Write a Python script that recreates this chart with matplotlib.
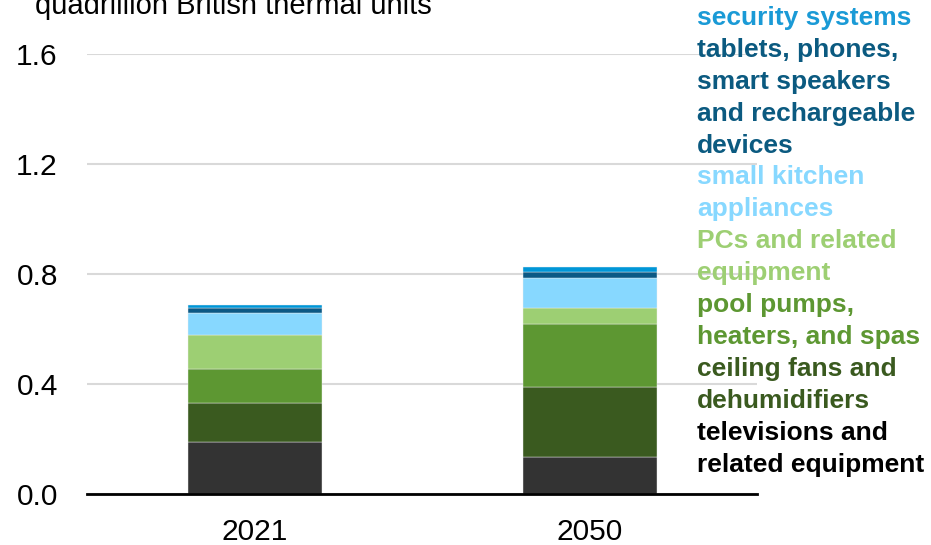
import matplotlib
matplotlib.use("Agg")
import matplotlib.pyplot as plt
import numpy as np

plt.rcParams['font.family'] = ['Liberation Sans', 'DejaVu Sans']

years = ["2021", "2050"]
categories = [
    "televisions and\nrelated equipment",
    "ceiling fans and\ndehumidifiers",
    "pool pumps,\nheaters, and spas",
    "PCs and related\nequipment",
    "small kitchen\nappliances",
    "tablets, phones,\nsmart speakers\nand rechargeable\ndevices",
    "security systems",
]
values_2021 = [0.190, 0.140, 0.125, 0.123, 0.081, 0.017, 0.010]
values_2050 = [0.133, 0.255, 0.229, 0.060, 0.107, 0.022, 0.019]
bar_colors = ["#333333", "#3a5a1f", "#5d9732", "#9dcf73", "#87d8ff", "#0b5985", "#0096d7"]
text_colors = ["#000000", "#3a5a1f", "#5d9732", "#9dcf73", "#87d8ff", "#0b5a80", "#1a9ad6"]
yticks = [0.0, 0.4, 0.8, 1.2, 1.6]
ylabel = "quadrillion British thermal units"

W, H = 931, 545
fig = plt.figure(figsize=(W / 100, H / 100), dpi=100)
ax = fig.add_axes([87 / W, 1 - 494 / H, (757 - 87) / W, (494 - 54) / H])

data = np.array([values_2021, values_2050])
x = np.arange(len(years))
bottom = np.zeros(len(years))
for i, c in enumerate(categories):
    ax.bar(x, data[:, i], bottom=bottom, width=0.4, color=bar_colors[i],
           edgecolor="#f0f0f0", linewidth=0.3, zorder=3)
    bottom += data[:, i]

ax.set_xlim(-0.5, 1.5)
ax.set_ylim(0, 1.6)
ax.set_yticks(yticks)
ax.set_yticklabels([f"{t:.1f}" for t in yticks], fontsize=21.5)
ax.set_xticks(x)
ax.set_xticklabels(years, fontsize=21.5)
ax.tick_params(axis='y', length=0, pad=21)
ax.tick_params(axis='x', length=0, pad=17)
ax.grid(axis='y', color="#d9d9d9", linewidth=1.5, zorder=0)
for s in ["top", "right", "left"]:
    ax.spines[s].set_visible(False)
ax.spines["bottom"].set_linewidth(2)
ax.spines["bottom"].set_zorder(4)

fig.text(35 / W, 1 - 14 / H, ylabel, fontsize=21, ha="left", va="baseline")

# right-side labels, listed top to bottom
y = 18
line_h = 31.9
for i in range(len(categories) - 1, -1, -1):
    for line in categories[i].split("\n"):
        fig.text(697 / W, 1 - y / H, line, fontsize=19, fontweight="bold",
                 color=text_colors[i], ha="left", va="center")
        y += line_h

fig.savefig("out.png", dpi=100)
